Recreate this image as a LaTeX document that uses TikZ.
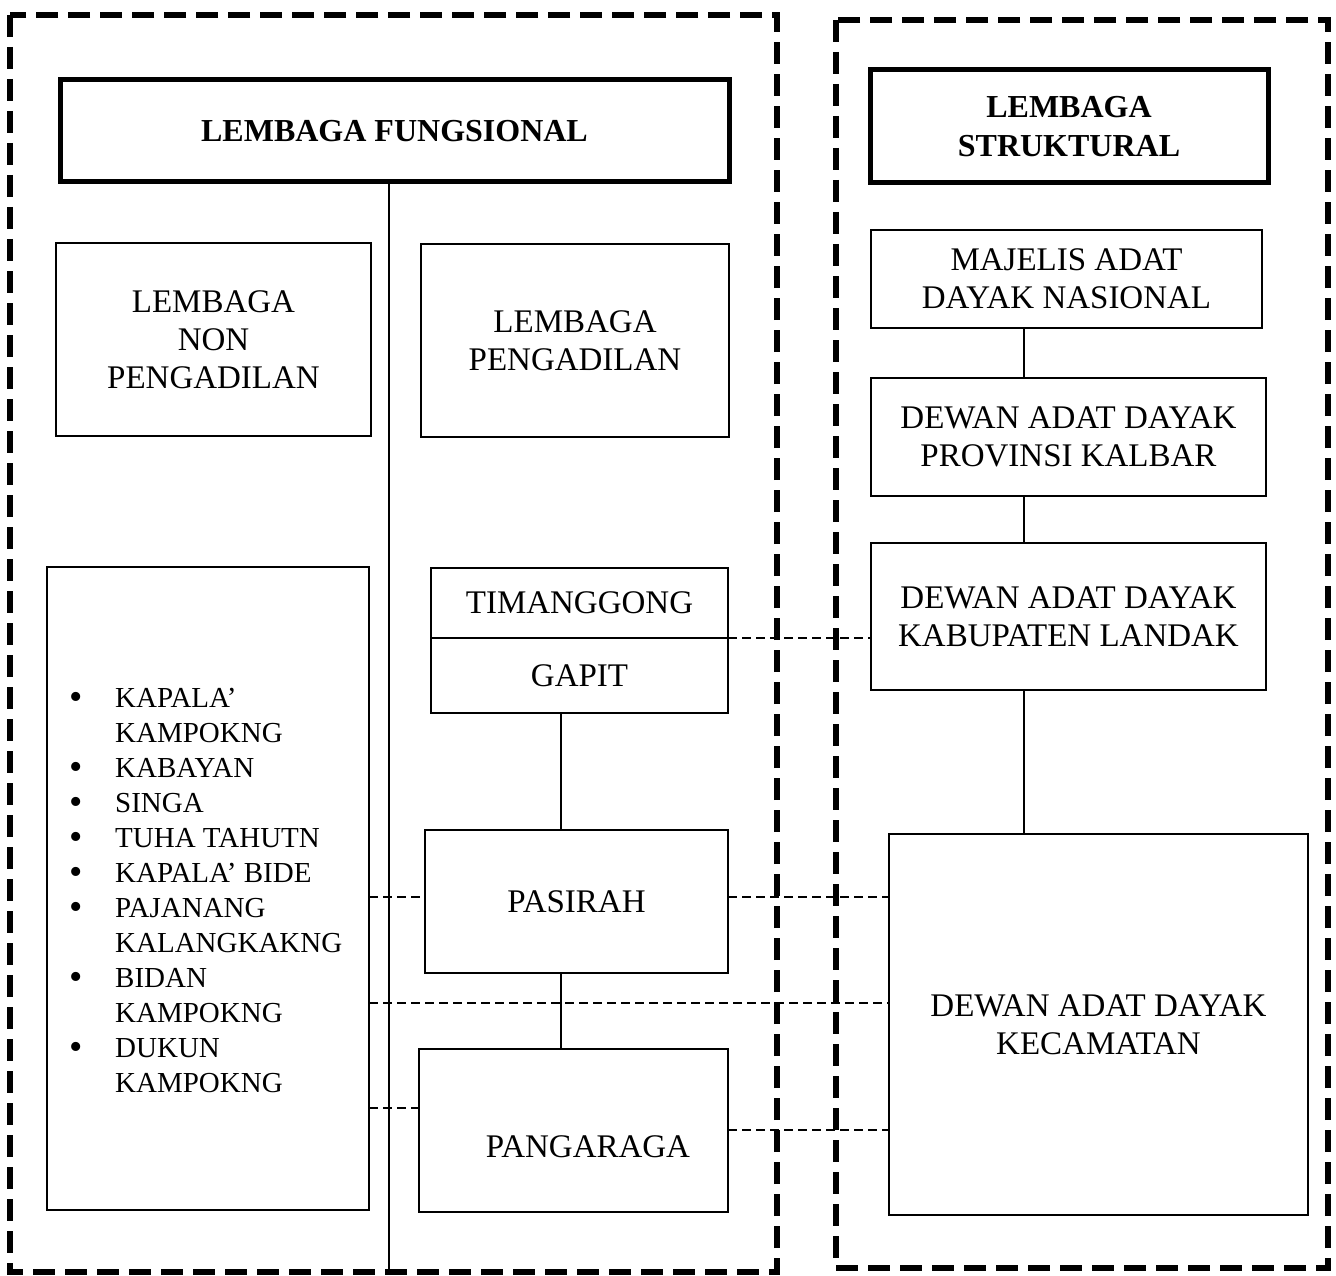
\documentclass[tikz,border=0pt]{standalone}
\usepackage{fontspec}
\setmainfont{Liberation Serif}
\newcommand\blt{\makebox[46pt][l]{\raisebox{-2pt}{\fontsize{38}{35}\selectfont\textbullet}}}
\newcommand\nob{\makebox[46pt][l]{}}
\begin{document}
\begin{tikzpicture}[x=1pt,y=-1pt,
  cont/.style={line width=6pt, dash pattern=on 22pt off 10pt},
  bx/.style={draw, line width=2.5pt, anchor=north west, inner sep=0pt, outer sep=0pt, align=center,
    font=\fontsize{33}{38}\selectfont},
  hbx/.style={bx, line width=5pt, font=\bfseries\fontsize{32}{39}\selectfont},
  conn/.style={line width=1.5pt},
  dconn/.style={line width=2pt, dash pattern=on 9pt off 5pt},
  lbl/.style={inner sep=0pt, font=\fontsize{33}{38}\selectfont}
]
\useasboundingbox (0,0) rectangle (1336,1276);
\draw[cont] (10,15) rectangle (777,1272);
\draw[cont] (836,20) rectangle (1328,1268);

% left side
\node[hbx, minimum width=669pt, minimum height=102pt] (fung) at (60,80) {LEMBAGA FUNGSIONAL};
\node[bx, minimum width=315pt, minimum height=193pt] (lnp) at (56,243) {LEMBAGA\\NON\\PENGADILAN};
\node[bx, minimum width=308pt, minimum height=193pt] (lp) at (421,244) {LEMBAGA\\PENGADILAN};
\node[bx, minimum width=322pt, minimum height=643pt] (list) at (47,567) {};
\node[inner sep=0pt, anchor=west, align=left, font=\fontsize{29}{35}\selectfont] (items) at (69,890) {%
\blt KAPALA’\\
\nob KAMPOKNG\\
\blt KABAYAN\\
\blt SINGA\\
\blt TUHA TAHUTN\\
\blt KAPALA’ BIDE\\
\blt PAJANANG\\
\nob KALANGKAKNG\\
\blt BIDAN\\
\nob KAMPOKNG\\
\blt DUKUN\\
\nob KAMPOKNG};
\node[bx, minimum width=297pt, minimum height=70pt] (tim) at (431,568) {TIMANGGONG};
\node[bx, minimum width=297pt, minimum height=75pt] (gap) at (431,638) {GAPIT};
\node[bx, minimum width=303pt, minimum height=143pt] (pas) at (425,830) {PASIRAH};
\node[bx, minimum width=309pt, minimum height=163pt] (pang) at (419,1049) {};
\node[lbl] (pangt) at (588,1147) {PANGARAGA};

% right side
\node[hbx, minimum width=398pt, minimum height=113pt] (strk) at (870,70) {LEMBAGA\\STRUKTURAL};
\node[bx, minimum width=391pt, minimum height=98pt] (maj) at (871,230) {MAJELIS ADAT\\DAYAK NASIONAL};
\node[bx, minimum width=395pt, minimum height=118pt] (prov) at (871,378) {DEWAN ADAT DAYAK\\PROVINSI KALBAR};
\node[bx, minimum width=395pt, minimum height=147pt] (kab) at (871,543) {DEWAN ADAT DAYAK\\KABUPATEN LANDAK};
\node[bx, minimum width=419pt, minimum height=381pt] (kec) at (889,834) {DEWAN ADAT DAYAK\\KECAMATAN};

% coordinates
\coordinate (vbot) at (389,1272);
\coordinate (xm) at (561,0);
\coordinate (xs) at (1024,0);
\coordinate (y1) at (0,897);
\coordinate (y2) at (0,1003);
\coordinate (y3) at (0,1108);
\coordinate (y4) at (0,1130);

% solid connectors
\draw[conn] (fung.south -| vbot) -- (vbot);
\draw[conn] (gap.south -| xm) -- (pas.north -| xm);
\draw[conn] (pas.south -| xm) -- (pang.north -| xm);
\draw[conn] (maj.south -| xs) -- (prov.north -| xs);
\draw[conn] (prov.south -| xs) -- (kab.north -| xs);
\draw[conn] (kab.south -| xs) -- (kec.north -| xs);

% dashed connectors
\draw[dconn] (tim.south east) -- (kab.west |- tim.south east);
\draw[dconn] (list.east |- y1) -- (pas.west |- y1);
\draw[dconn] (pas.east |- y1) -- (kec.west |- y1);
\draw[dconn] (list.east |- y2) -- (kec.west |- y2);
\draw[dconn] (list.east |- y3) -- (pang.west |- y3);
\draw[dconn] (pang.east |- y4) -- (kec.west |- y4);
\end{tikzpicture}
\end{document}
